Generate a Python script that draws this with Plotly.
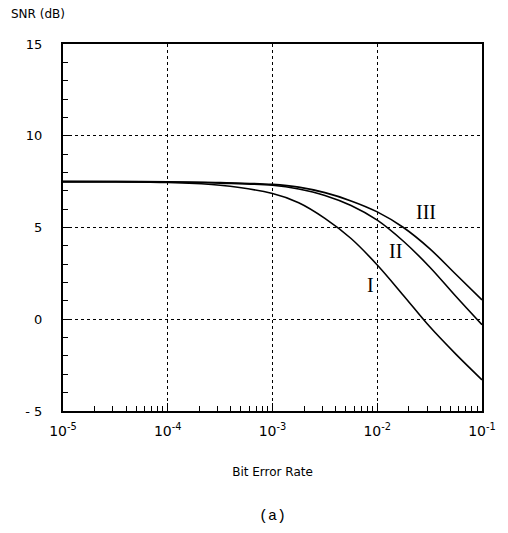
import plotly.graph_objects as go

# Data (log10 of BER, SNR in dB)
log_ber = [-5, -4.5, -4, -3.5, -3, -2.75, -2.5, -2.25, -2, -1.75, -1.5, -1.25, -1]
snr_I   = [7.5, 7.49, 7.45, 7.3, 6.85, 6.35, 5.5, 4.4, 2.96, 1.3, -0.4, -1.9, -3.3]
snr_II  = [7.5, 7.5, 7.48, 7.42, 7.3, 7.1, 6.75, 6.2, 5.4, 4.25, 2.85, 1.25, -0.3]
snr_III = [7.5, 7.5, 7.49, 7.45, 7.35, 7.2, 6.9, 6.45, 5.85, 5.0, 3.85, 2.45, 1.05]
ber = [10 ** v for v in log_ber]

curve_labels = ["I", "II", "III"]
label_x = [-2.065, -1.825, -1.535]
label_y = [1.87, 3.72, 5.84]

xtick_vals = [1e-5, 1e-4, 1e-3, 1e-2, 1e-1]
xtick_text = ["10<sup>-5</sup>", "10<sup>-4</sup>", "10<sup>-3</sup>", "10<sup>-2</sup>", "10<sup>-1</sup>"]
ytick_vals = [-5, 0, 5, 10, 15]
ytick_text = ["- 5", "0", "5", "10", "15"]

minor_x = [m * d for d in (1e-5, 1e-4, 1e-3, 1e-2) for m in range(2, 10)]

fig = go.Figure()
for ys in (snr_I, snr_II, snr_III):
    fig.add_trace(go.Scatter(x=ber, y=ys, mode="lines", line=dict(color="black", width=1.6, shape="spline", smoothing=1.0),
                             showlegend=False, hoverinfo="skip"))

for t, lx, ly in zip(curve_labels, label_x, label_y):
    fig.add_annotation(x=lx, y=ly, text=t, showarrow=False,
                       font=dict(family="Liberation Serif", size=20, color="black"))

fig.add_annotation(xref="paper", yref="paper", x=-0.13, y=1.0, yshift=21, xanchor="left", yanchor="bottom",
                   text="SNR (dB)", showarrow=False, font=dict(family="DejaVu Sans", size=12, color="black"))
fig.add_annotation(xref="paper", yref="paper", x=0.5, y=0, yshift=-105, xanchor="center", yanchor="middle",
                   text="(a)", showarrow=False, font=dict(family="Liberation Mono", size=15, color="black"))

fig.update_xaxes(type="log", range=[-5, -1], tickvals=xtick_vals, ticktext=xtick_text,
                 ticks="inside", ticklen=8, tickcolor="black", ticklabelstandoff=6,
                 showline=True, linecolor="black", linewidth=1.5, mirror=True,
                 showgrid=True, gridcolor="black", griddash="dot", gridwidth=1,
                 minor=dict(tickvals=minor_x, ticks="inside", ticklen=5, tickcolor="black", showgrid=False),
                 tickfont=dict(family="DejaVu Sans", size=14, color="black"),
                 title=dict(text="Bit Error Rate", font=dict(family="DejaVu Sans", size=12, color="black"), standoff=30),
                 zeroline=False)
fig.update_yaxes(range=[-5, 15], tickvals=ytick_vals, ticktext=ytick_text,
                 ticks="inside", ticklen=6, tickcolor="black", ticklabelstandoff=16,
                 showline=True, linecolor="black", linewidth=2, mirror=True,
                 showgrid=True, gridcolor="black", griddash="dot", gridwidth=1,
                 minor=dict(dtick=1, ticks="inside", ticklen=5, tickcolor="black", showgrid=False),
                 tickfont=dict(family="DejaVu Sans", size=13, color="black"),
                 zeroline=False)

fig.update_layout(width=500, height=525, margin=dict(l=55, r=18, t=36, b=122),
                  plot_bgcolor="white", paper_bgcolor="white")
fig.write_html("out.html")
